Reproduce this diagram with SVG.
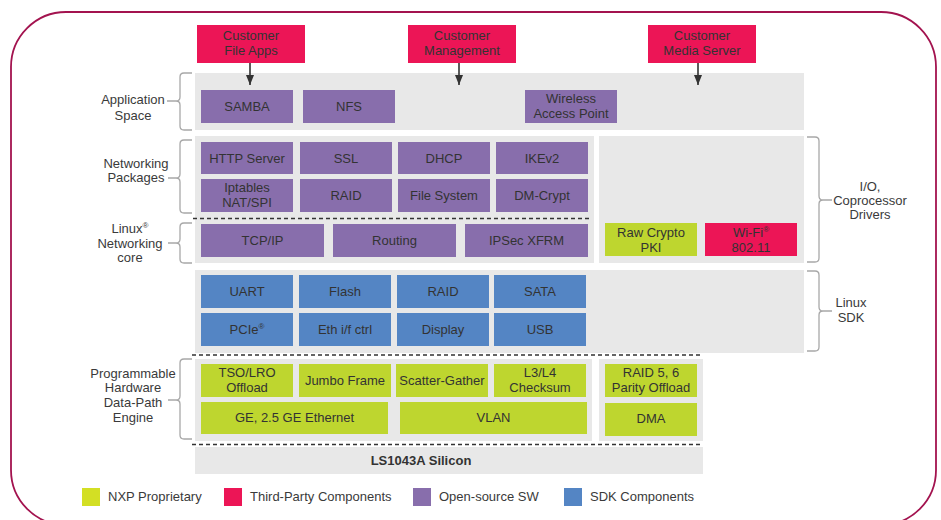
<svg xmlns="http://www.w3.org/2000/svg" width="941" height="520" viewBox="0 0 941 520">
<defs>
<style>
text{font-family:"Liberation Sans",Arial,sans-serif;font-size:13px;fill:#333;text-anchor:middle}
.lbl{fill:#3a3a3a}
.band{fill:#e8e8e8}
.red{fill:#ec1556}
.pur{fill:#886eac}
.blu{fill:#5485c4}
.grn{fill:#bed62f}
.brace{fill:none;stroke:#a8a8a8;stroke-width:1.3}
.dash{stroke:#333;stroke-width:1.3;stroke-dasharray:4 3;fill:none}
.arr{stroke:#333;stroke-width:1.6;fill:none}
.sup{font-size:8px}
</style>
<marker id="ah" viewBox="0 0 10 8" refX="10" refY="4" markerWidth="10" markerHeight="8" markerUnits="userSpaceOnUse" orient="auto">
<path d="M0,0 L10,4 L0,8 Z" fill="#333"/>
</marker>
</defs>
<rect x="11" y="12" width="925" height="513" rx="55" ry="55" fill="#fff" stroke="#a3134f" stroke-width="1.8"/>

<g id="bands">
<rect class="band" x="195" y="73" width="609" height="57"/>
<rect class="band" x="195" y="136" width="399" height="127"/>
<rect class="band" x="599" y="136" width="205" height="127"/>
<rect class="band" x="195" y="270" width="609" height="83"/>
<rect class="band" x="195" y="359" width="397" height="82"/>
<rect class="band" x="599" y="359" width="104" height="82"/>
</g>

<g id="silicon">
<rect class="band" x="195" y="447" width="508" height="27"/>
<text x="421" y="465" style="font-weight:bold">LS1043A Silicon</text>
</g>

<g id="dividers">
<line class="dash" x1="193" y1="218.5" x2="592" y2="218.5"/>
<line class="dash" x1="192" y1="355" x2="703" y2="355"/>
<line class="dash" x1="192" y1="444.5" x2="703" y2="444.5"/>
</g>

<g id="cust-file"><rect class="red" x="197" y="25" width="108" height="38"/><text x="251" y="40">Customer</text><text x="251" y="55">File Apps</text></g>
<g id="cust-mgmt"><rect class="red" x="408" y="25" width="108" height="38"/><text x="462" y="40">Customer</text><text x="462" y="55">Management</text></g>
<g id="cust-media"><rect class="red" x="648" y="25" width="108" height="38"/><text x="702" y="40">Customer</text><text x="702" y="55">Media Server</text></g>

<g id="samba"><rect class="pur" x="201" y="90" width="92" height="33"/><text x="247" y="111">SAMBA</text></g>
<g id="nfs"><rect class="pur" x="303" y="90" width="92" height="33"/><text x="349" y="111">NFS</text></g>
<g id="wap"><rect class="pur" x="525" y="90" width="92" height="33"/><text x="571" y="103">Wireless</text><text x="571" y="118">Access Point</text></g>

<g id="http"><rect class="pur" x="201" y="142" width="92" height="32"/><text x="247" y="162.5">HTTP Server</text></g>
<g id="ssl"><rect class="pur" x="300" y="142" width="92" height="32"/><text x="346" y="162.5">SSL</text></g>
<g id="dhcp"><rect class="pur" x="398" y="142" width="92" height="32"/><text x="444" y="162.5">DHCP</text></g>
<g id="ikev2"><rect class="pur" x="496" y="142" width="92" height="32"/><text x="542" y="162.5">IKEv2</text></g>
<g id="iptables"><rect class="pur" x="201" y="179" width="92" height="33"/><text x="247" y="192">Iptables</text><text x="247" y="207">NAT/SPI</text></g>
<g id="raid-net"><rect class="pur" x="300" y="179" width="92" height="33"/><text x="346" y="200">RAID</text></g>
<g id="filesystem"><rect class="pur" x="398" y="179" width="92" height="33"/><text x="444" y="200">File System</text></g>
<g id="dmcrypt"><rect class="pur" x="496" y="179" width="92" height="33"/><text x="542" y="200">DM-Crypt</text></g>

<g id="tcpip"><rect class="pur" x="201" y="224" width="123" height="33"/><text x="262.5" y="245">TCP/IP</text></g>
<g id="routing"><rect class="pur" x="333" y="224" width="123" height="33"/><text x="394.5" y="245">Routing</text></g>
<g id="ipsec"><rect class="pur" x="465" y="224" width="123" height="33"/><text x="526.5" y="245">IPSec XFRM</text></g>

<g id="rawcrypto"><rect class="grn" x="605" y="223" width="92" height="33"/><text x="651" y="237">Raw Crypto</text><text x="651" y="252">PKI</text></g>
<g id="wifi"><rect class="red" x="705" y="223" width="92" height="33"/><text x="751" y="237">Wi-Fi<tspan class="sup" dy="-5">®</tspan></text><text x="751" y="252">802.11</text></g>

<g id="uart"><rect class="blu" x="201" y="275" width="92" height="33"/><text x="247" y="296">UART</text></g>
<g id="flash"><rect class="blu" x="299" y="275" width="92" height="33"/><text x="345" y="296">Flash</text></g>
<g id="raid-sdk"><rect class="blu" x="397" y="275" width="92" height="33"/><text x="443" y="296">RAID</text></g>
<g id="sata"><rect class="blu" x="494" y="275" width="92" height="33"/><text x="540" y="296">SATA</text></g>
<g id="pcie"><rect class="blu" x="201" y="313" width="92" height="33"/><text x="247" y="334">PCIe<tspan class="sup" dy="-5">®</tspan></text></g>
<g id="eth"><rect class="blu" x="299" y="313" width="92" height="33"/><text x="345" y="334">Eth i/f ctrl</text></g>
<g id="display"><rect class="blu" x="397" y="313" width="92" height="33"/><text x="443" y="334">Display</text></g>
<g id="usb"><rect class="blu" x="494" y="313" width="92" height="33"/><text x="540" y="334">USB</text></g>

<g id="tso"><rect class="grn" x="201" y="364" width="92" height="33"/><text x="247" y="377">TSO/LRO</text><text x="247" y="392">Offload</text></g>
<g id="jumbo"><rect class="grn" x="299" y="364" width="92" height="33"/><text x="345" y="385">Jumbo Frame</text></g>
<g id="scatter"><rect class="grn" x="396" y="364" width="92" height="33"/><text x="442" y="385">Scatter-Gather</text></g>
<g id="l3l4"><rect class="grn" x="494" y="364" width="92" height="33"/><text x="540" y="377">L3/L4</text><text x="540" y="392">Checksum</text></g>
<g id="raid56"><rect class="grn" x="605" y="364" width="92" height="33"/><text x="651" y="377">RAID 5, 6</text><text x="651" y="392">Parity Offload</text></g>
<g id="ge"><rect class="grn" x="201" y="402" width="187" height="32"/><text x="294.5" y="422">GE, 2.5 GE Ethernet</text></g>
<g id="vlan"><rect class="grn" x="400" y="402" width="187" height="32"/><text x="493.5" y="422">VLAN</text></g>
<g id="dma"><rect class="grn" x="605" y="403" width="92" height="33"/><text x="651" y="423">DMA</text></g>

<g id="connectors">
<line class="arr" x1="250" y1="63" x2="250" y2="85" marker-end="url(#ah)"/>
<line class="arr" x1="459" y1="63" x2="459" y2="85" marker-end="url(#ah)"/>
<line class="arr" x1="698" y1="63" x2="698" y2="85" marker-end="url(#ah)"/>
</g>

<g id="braces">
<path class="brace" d="M192,73 L184,73 Q180,73 180,77 L180,97 Q180,101 176,101 L167,101 M176,101 Q180,101 180,105 L180,126 Q180,130 184,130 L192,130"/>
<path class="brace" d="M192,140 L184,140 Q180,140 180,144 L180,174 Q180,178 176,178 L168,178 M176,178 Q180,178 180,182 L180,209 Q180,213 184,213 L192,213"/>
<path class="brace" d="M192,223 L184,223 Q180,223 180,227 L180,239 Q180,243 176,243 L168,243 M176,243 Q180,243 180,247 L180,259 Q180,263 184,263 L192,263"/>
<path class="brace" d="M192,359 L184,359 Q180,359 180,363 L180,396 Q180,400 176,400 L168,400 M176,400 Q180,400 180,404 L180,435 Q180,439 184,439 L192,439"/>
<path class="brace" d="M807,137 L815,137 Q819,137 819,141 L819,196 Q819,200 823,200 L832,200 M823,200 Q819,200 819,204 L819,258 Q819,262 815,262 L807,262"/>
<path class="brace" d="M807,271 L815,271 Q819,271 819,275 L819,307 Q819,311 823,311 L832,311 M823,311 Q819,311 819,315 L819,347 Q819,351 815,351 L807,351"/>
</g>

<g id="labels">
<text class="lbl" x="133" y="104">Application</text><text class="lbl" x="133" y="120">Space</text>
<text class="lbl" x="136" y="168">Networking</text><text class="lbl" x="136" y="182">Packages</text>
<text class="lbl" x="130" y="233">Linux<tspan class="sup" dy="-5">®</tspan></text><text class="lbl" x="130" y="248">Networking</text><text class="lbl" x="130" y="262">core</text>
<text class="lbl" x="133" y="378">Programmable</text><text class="lbl" x="133" y="392">Hardware</text><text class="lbl" x="133" y="407">Data-Path</text><text class="lbl" x="133" y="422">Engine</text>
<text class="lbl" x="870" y="191">I/O,</text><text class="lbl" x="870" y="205">Coprocessor</text><text class="lbl" x="870" y="219">Drivers</text>
<text class="lbl" x="851" y="307">Linux</text><text class="lbl" x="851" y="322">SDK</text>
</g>

<g id="legend">
<rect x="82" y="488" width="18" height="18" fill="#d3df24"/><text class="lbl" x="108" y="501" style="text-anchor:start">NXP Proprietary</text>
<rect x="224" y="488" width="18" height="18" fill="#ec1556"/><text class="lbl" x="250" y="501" style="text-anchor:start">Third-Party Components</text>
<rect x="413" y="488" width="18" height="18" fill="#886eac"/><text class="lbl" x="439" y="501" style="text-anchor:start">Open-source SW</text>
<rect x="564" y="488" width="18" height="18" fill="#5485c4"/><text class="lbl" x="590" y="501" style="text-anchor:start">SDK Components</text>
</g>
</svg>
